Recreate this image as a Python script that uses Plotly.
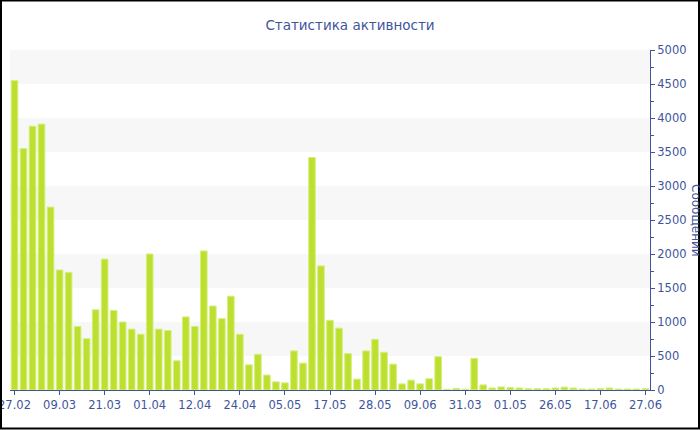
import plotly.graph_objects as go

# ---- data ----
title_text = "Статистика активности"
y_title = "Сообщений"
messages = [4550, 3550, 3880, 3910, 2690, 1765, 1730, 935, 755, 1180,
            1925, 1170, 1000, 895, 820, 2000, 895, 875, 430, 1075,
            935, 2045, 1235, 1050, 1380, 820, 370, 525, 220, 120,
            105, 575, 395, 3420, 1825, 1025, 910, 535, 160, 575,
            745, 555, 380, 90, 145, 90, 165, 490, 10, 25,
            12, 466, 75, 30, 45, 35, 30, 20, 20, 20,
            30, 42, 30, 15, 15, 20, 30, 15, 15, 15, 20]
bar_index = list(range(len(messages)))
tick_labels = ["27.02", "09.03", "21.03", "01.04", "12.04", "24.04", "05.05",
               "17.05", "28.05", "09.06", "31.03", "01.05", "26.05", "17.06", "27.06"]
tick_step = 5
tick_positions = bar_index[::tick_step]
y_max = 5000
band_step = 500

# ---- style ----
W, H = 700, 430
ML, MR, MT, MB = 10, 50, 50, 40
PW, PH = W - ML - MR, H - MT - MB
blue = "#3e559c"
bar_color = "#bde030"
font_family = "DejaVu Sans"

fig = go.Figure()
fig.add_trace(go.Bar(
    x=bar_index, y=messages,
    marker=dict(color=bar_color, line=dict(color="#d6ef80", width=1)),
    hoverinfo="y",
))

shapes = []
# alternating horizontal bands
for lo in range(band_step, y_max, 2 * band_step):
    shapes.append(dict(type="rect", xref="paper", yref="y", x0=0, x1=1,
                       y0=lo, y1=lo + band_step, fillcolor="#f7f7f7",
                       line=dict(width=0), layer="below"))
# outer border of the whole figure
def px_x(p):
    return (p - ML) / PW
def px_y(p):
    return (H - MB - p) / PH
shapes.append(dict(type="rect", xref="paper", yref="paper",
                   x0=px_x(1), x1=px_x(699), y0=px_y(428.5), y1=px_y(0.5),
                   line=dict(color="black", width=2), fillcolor="rgba(0,0,0,0)",
                   layer="above"))

fig.update_layout(
    width=W, height=H,
    margin=dict(l=ML, r=MR, t=MT, b=MB, autoexpand=False),
    paper_bgcolor="white", plot_bgcolor="white",
    font=dict(family=font_family, color=blue, size=12),
    title=dict(text=title_text, x=0.5, xanchor="center", y=1 - 25 / H,
               yanchor="middle", font=dict(size=13.5, color=blue, family=font_family)),
    bargap=0.26,
    showlegend=False,
    shapes=shapes,
    annotations=[dict(text=y_title, xref="paper", yref="paper",
                      x=px_x(696), y=0.5, xanchor="center", yanchor="middle",
                      textangle=90, showarrow=False,
                      font=dict(size=12, color=blue, family=font_family))],
)
fig.update_xaxes(
    range=[-0.5, len(messages) - 0.5],
    tickmode="array", tickvals=tick_positions, ticktext=tick_labels,
    ticks="outside", ticklen=4, tickcolor=blue,
    showline=True, linecolor=blue, linewidth=1,
    showgrid=False, zeroline=False, automargin=False,
    ticklabeloverflow="allow",
    tickfont=dict(size=11.5, color=blue, family=font_family),
)
fig.update_yaxes(
    side="right", range=[0, y_max], dtick=band_step, tick0=0,
    ticks="outside", ticklen=4, tickcolor=blue,
    minor=dict(ticks="outside", ticklen=3, tickcolor=blue, dtick=band_step / 2, showgrid=False),
    showline=True, linecolor=blue, linewidth=1,
    showgrid=False, zeroline=False, automargin=False,
    ticklabeloverflow="allow",
    tickfont=dict(size=11.5, color=blue, family=font_family),
)

fig.write_html("out.html", config={"displayModeBar": False},
               post_script="document.body.style.margin='0px';document.body.style.overflow='hidden';")
